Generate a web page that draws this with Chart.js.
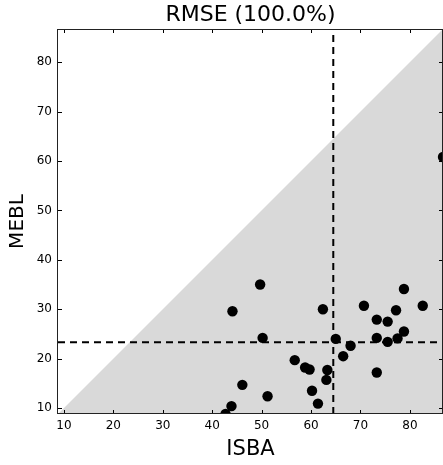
<!DOCTYPE html>
<html>
<head>
<meta charset="utf-8">
<script src="https://cdn.jsdelivr.net/npm/chart.js@4/dist/chart.umd.min.js"></script>
<style>
  body { margin: 0; background: #fff; }
</style>
</head>
<body>
<canvas id="chart" width="443" height="465"></canvas>
<script>
// scatter values
const isba = [44.1, 62.4, 70.7, 82.6, 77.2, 73.3, 75.5, 78.8, 50.2, 65.0,
              73.3, 77.5, 75.5, 68.0, 66.5, 56.7, 58.8, 59.7, 63.3, 63.1,
              73.3, 46.1, 60.2, 51.2, 61.4, 43.9, 42.7, 78.8, 49.7, 86.7];
const mebl = [29.6, 30.0, 30.7, 30.7, 29.8, 27.9, 27.5, 25.5, 24.2, 24.0,
              24.2, 24.1, 23.4, 22.6, 20.5, 19.7, 18.2, 17.8, 17.7, 15.7,
              17.2, 14.7, 13.5, 12.4, 10.9, 10.4, 8.8, 34.1, 35.0, 60.8];

// dashed reference lines
const meanIsba = 64.5;
const meanMebl = 23.3;

const tickValues = [10, 20, 30, 40, 50, 60, 70, 80];
const axisMin = 8.8;
const axisMax = 86.7;

const FONT = "'DejaVu Sans', sans-serif";

let points = isba.map((x, i) => ({x: x, y: mebl[i]}));

// frame + inward ticks on all four sides, matplotlib style
const framePlugin = {
    id: 'frame',
    afterDatasetsDraw(chart) {
        const ctx = chart.ctx;
        const a = chart.chartArea;
        const xs = chart.scales.x, ys = chart.scales.y;
        ctx.save();
        ctx.strokeStyle = '#000';
        ctx.lineWidth = 1;
        ctx.beginPath();
        tickValues.forEach(v => {
            let px = Math.round(xs.getPixelForValue(v)) + 0.5;
            ctx.moveTo(px, a.bottom); ctx.lineTo(px, a.bottom - 4);
            ctx.moveTo(px, a.top); ctx.lineTo(px, a.top + 4);
            let py = Math.round(ys.getPixelForValue(v)) + 0.5;
            ctx.moveTo(a.left, py); ctx.lineTo(a.left + 4, py);
            ctx.moveTo(a.right, py); ctx.lineTo(a.right - 4, py);
        });
        ctx.stroke();
        ctx.strokeStyle = '#222';
        ctx.strokeRect(a.left - 0.5, a.top + 0.5, a.right - a.left, a.bottom - a.top - 1);
        ctx.restore();
    }
};

new Chart(document.getElementById('chart'), {
    type: 'scatter',
    data: {
        datasets: [
            {
                data: points,
                backgroundColor: '#000',
                borderColor: '#000',
                pointRadius: 5.2,
                pointHoverRadius: 5.2,
                borderWidth: 0,
                clip: 0,
                order: 0
            },
            {
                type: 'line',
                data: [{x: meanIsba, y: axisMin}, {x: meanIsba, y: axisMax}],
                borderColor: '#000',
                borderWidth: 2,
                borderDash: [7, 5],
                pointRadius: 0,
                clip: 0,
                order: 1
            },
            {
                type: 'line',
                data: [{x: axisMin, y: meanMebl}, {x: axisMax, y: meanMebl}],
                borderColor: '#000',
                borderWidth: 2,
                borderDash: [7, 5],
                pointRadius: 0,
                clip: 0,
                order: 1
            },
            {
                // grey area below the 1:1 line
                type: 'line',
                data: [{x: axisMin, y: axisMin}, {x: axisMax, y: axisMax}],
                borderWidth: 0,
                pointRadius: 0,
                fill: 'start',
                backgroundColor: '#d9d9d9',
                clip: 0,
                order: 2
            }
        ]
    },
    options: {
        responsive: false,
        animation: false,
        layout: { padding: 0, autoPadding: false },
        plugins: {
            legend: { display: false },
            tooltip: { enabled: false },
            title: {
                display: true,
                fullSize: false,
                text: 'RMSE (100.0%)',
                color: '#000',
                font: { family: FONT, size: 22, weight: 'normal', lineHeight: 1.2 },
                padding: { top: 2, bottom: 0.6 }
            }
        },
        scales: {
            x: {
                type: 'linear',
                min: axisMin,
                max: axisMax,
                afterBuildTicks: s => { s.ticks = tickValues.map(v => ({value: v})); },
                afterFit: s => { s.height = 51; s.paddingLeft = 0; s.paddingRight = 0; },
                grid: { display: false, drawTicks: false },
                border: { display: false },
                ticks: {
                    color: '#000',
                    font: { family: FONT, size: 12 },
                    padding: 5,
                    maxRotation: 0
                },
                title: {
                    display: true,
                    text: 'ISBA',
                    color: '#000',
                    font: { family: FONT, size: 21, lineHeight: 1.2 },
                    padding: { top: 0, bottom: 3 }
                }
            },
            y: {
                type: 'linear',
                min: axisMin,
                max: axisMax,
                afterBuildTicks: s => { s.ticks = tickValues.map(v => ({value: v})); },
                afterFit: s => { s.width = 58; s.paddingTop = 0; s.paddingBottom = 0; },
                grid: { display: false, drawTicks: false },
                border: { display: false },
                ticks: {
                    color: '#000',
                    font: { family: FONT, size: 12 },
                    padding: 6
                },
                title: {
                    display: true,
                    text: 'MEBL',
                    color: '#000',
                    font: { family: FONT, size: 20, lineHeight: 1.2 },
                    padding: { top: 6, bottom: 0 }
                }
            }
        }
    },
    plugins: [framePlugin]
});
</script>
</body>
</html>
